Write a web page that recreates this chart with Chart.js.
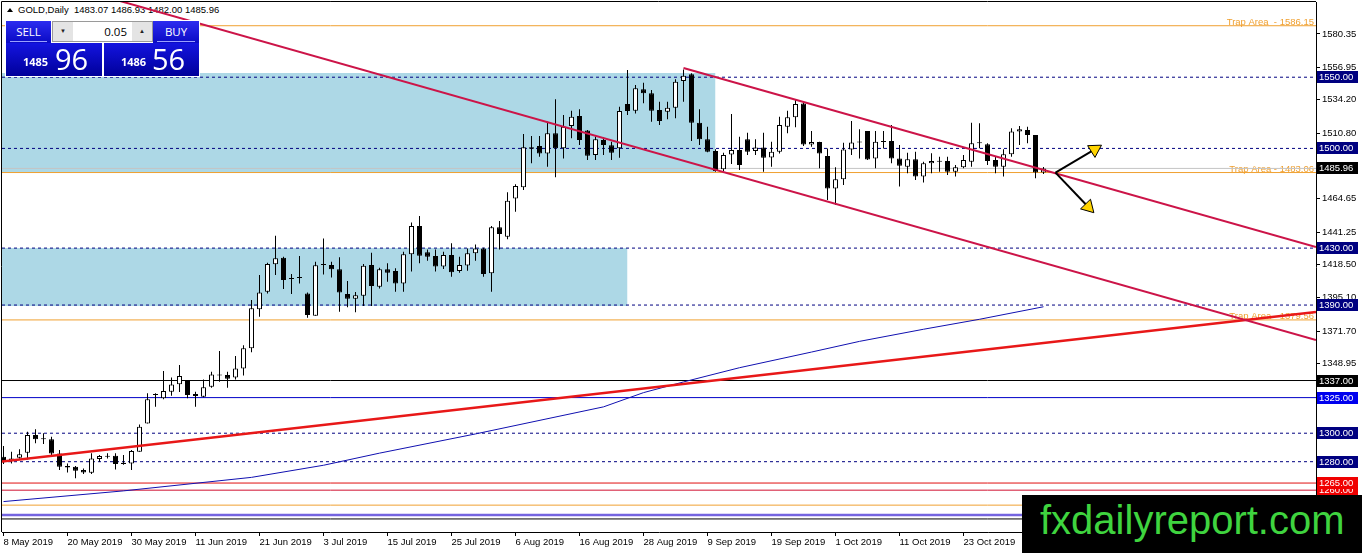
<!DOCTYPE html>
<html><head><meta charset="utf-8">
<script src="https://cdn.jsdelivr.net/npm/chart.js@4.4.0/dist/chart.umd.min.js"></script>
<style>
html,body{margin:0;padding:0;background:#fff;overflow:hidden}
#wrap{position:relative;width:1362px;height:553px;background:#fff}
#c{position:absolute;left:0;top:0;z-index:1}
#hdr{position:absolute;left:18px;top:4px;z-index:0;font:9.5px "Liberation Sans",Arial,sans-serif;color:#000;white-space:pre;line-height:12px}
#tri{position:absolute;left:7px;top:8px;width:0;height:0;border-left:3px solid transparent;border-right:3px solid transparent;border-bottom:4px solid #000;z-index:0}
#panel{position:absolute;left:5px;top:20px;width:195px;height:57px;background:#fff;z-index:3}
.btn{position:absolute;background:linear-gradient(#2c2cf0,#0a0ac4);color:#fff;font:11.5px "Open Sans",sans-serif;text-align:center;line-height:21px}
.btn i{position:absolute;left:4px;right:4px;bottom:1px;height:1px;background:#9aa0ff}
#spin{position:absolute;border:1px solid #9a9a9a;background:#fff;box-sizing:border-box}
#spin .a{position:absolute;top:0;width:20px;height:19px;background:#e4e4e4;font-size:6px;line-height:19px;text-align:center;color:#222}
#spin .v{position:absolute;right:25px;top:0;font:11.5px "Open Sans",sans-serif;line-height:19px;color:#000}
.px{position:absolute;background:linear-gradient(#1414e0,#00009a);color:#fff;white-space:nowrap}
.px .s{position:absolute;bottom:7px;font:bold 11px "Open Sans",sans-serif}
.px .b{position:absolute;bottom:3px;font:29px "Open Sans",sans-serif;line-height:29px}
#wm{position:absolute;left:1022px;top:495px;width:340px;height:58px;background:#000;color:#3fd43f;font:40px "Liberation Sans",Arial,sans-serif;line-height:46px;padding-left:18px;box-sizing:border-box;padding-top:2px;z-index:3;white-space:nowrap}
</style></head><body>
<div id="wrap">
<div id="tri"></div>
<div id="hdr">GOLD,Daily  1483.07 1486.93 1482.00 1485.96</div>
<canvas id="c" width="1362" height="553"></canvas>
<div id="panel">
 <div class="btn" style="left:1px;top:1px;width:45px;height:22px">SELL<i></i></div>
 <div id="spin" style="left:47px;top:1px;width:101px;height:21px">
  <div class="a" style="left:0">▼</div>
  <div class="v">0.05</div>
  <div class="a" style="right:0">▲</div>
 </div>
 <div class="btn" style="left:148px;top:1px;width:46px;height:22px">BUY<i></i></div>
 <div class="px" style="left:1px;top:23px;width:96px;height:33px"><span class="s" style="left:17px">1485</span><span class="b" style="left:49px">96</span></div>
 <div class="px" style="left:99px;top:23px;width:95px;height:33px"><span class="s" style="left:17px">1486</span><span class="b" style="left:48px">56</span></div>
</div>
<div id="wm">fxdailyreport.com</div>
</div>
<script>
// ---------- data ----------
const dateLabels = ['8 May 2019','20 May 2019','30 May 2019','11 Jun 2019','21 Jun 2019','3 Jul 2019','15 Jul 2019','25 Jul 2019','6 Aug 2019','16 Aug 2019','28 Aug 2019','9 Sep 2019','19 Sep 2019','1 Oct 2019','11 Oct 2019','23 Oct 2019'];
const dateTickIdx = [0,8,16,24,32,40,48,56,64,72,80,88,96,104,112,120];
const priceTicks = [1580.35,1556.95,1534.20,1510.80,1487.40,1464.65,1441.25,1418.50,1395.10,1371.70,1348.95,1325.55,1302.15,1279.40,1256.00];

const openP = [1283.5,1280.7,1282.8,1286.3,1298.7,1296.2,1295.7,1285.8,1277.0,1276.5,1274.1,1272.3,1281.9,1283.4,1284.2,1279.3,1278.8,1287.0,1306.9,1327.6,
1324.5,1329.1,1334.4,1336.7,1327.5,1325.6,1332.7,1340.6,1340.9,1339.2,1345.5,1359.6,1387.0,1399.4,1418.6,1423.2,1408.3,1409.0,1398.2,1382.5,
1418.8,1418.1,1415.1,1397.7,1394.4,1396.6,1418.1,1402.9,1415.1,1413.9,1405.2,1425.6,1445.5,1427.0,1424.5,1417.0,1425.2,1413.9,1417.7,1426.3,
1429.8,1412.3,1444.6,1438.0,1464.9,1472.7,1500.8,1501.7,1496.5,1510.6,1500.1,1515.8,1522.8,1512.5,1495.4,1505.9,1502.2,1500.1,1531.2,1526.5,
1541.5,1538.7,1527.0,1525.8,1528.6,1547.4,1552.0,1518.1,1506.4,1498.2,1485.3,1495.8,1498.9,1506.4,1498.2,1500.7,1493.7,1497.7,1515.3,1521.8,
1531.6,1502.8,1504.5,1494.6,1471.9,1478.3,1499.3,1504.2,1512.2,1493.0,1504.5,1505.2,1493.0,1487.2,1492.4,1480.2,1489.5,1490.7,1491.2,1483.7,
1486.7,1490.7,1503.6,1502.9,1491.9,1487.2,1495.9,1511.8,1513.0,1509.4,1483.07];
const highP = [1291.0,1287.0,1288.7,1301.0,1302.7,1299.9,1297.5,1288.2,1278.8,1277.0,1275.3,1285.9,1284.7,1285.9,1285.9,1284.7,1288.2,1306.2,1328.0,1328.0,
1343.7,1339.2,1347.9,1337.4,1329.2,1337.8,1343.2,1357.7,1343.2,1354.2,1361.7,1393.5,1411.1,1419.7,1438.7,1424.0,1411.8,1424.4,1398.9,1420.4,
1436.8,1420.4,1423.5,1406.9,1399.1,1418.8,1426.8,1416.2,1419.3,1415.8,1427.5,1447.9,1452.5,1429.1,1429.1,1427.5,1433.4,1424.0,1429.8,1432.6,
1430.3,1445.5,1449.0,1469.2,1474.8,1510.1,1508.7,1508.7,1518.8,1534.5,1523.5,1526.5,1527.5,1513.0,1508.3,1507.8,1504.7,1529.3,1555.1,1544.5,
1546.2,1541.0,1532.8,1532.8,1548.5,1555.5,1552.7,1527.5,1515.3,1499.4,1497.0,1524.1,1508.2,1511.0,1506.4,1511.0,1504.7,1522.3,1526.5,1534.5,
1532.8,1512.2,1504.7,1500.0,1486.7,1504.0,1519.2,1513.4,1512.2,1512.2,1512.2,1516.5,1502.4,1497.0,1497.7,1490.7,1496.6,1494.2,1494.2,1488.4,
1495.4,1518.1,1517.6,1503.6,1494.2,1499.4,1514.1,1515.8,1515.3,1509.4,1486.93];
const lowP = [1278.4,1278.8,1282.1,1281.6,1292.9,1292.4,1284.7,1274.1,1272.5,1268.3,1271.3,1271.3,1280.0,1282.3,1274.6,1277.9,1274.1,1287.0,1306.9,1318.6,
1323.8,1326.3,1329.0,1324.5,1318.6,1325.2,1332.0,1336.2,1331.9,1337.8,1340.6,1356.8,1381.8,1398.2,1411.1,1401.2,1397.7,1405.2,1381.1,1382.5,
1411.5,1409.4,1385.3,1388.4,1384.9,1389.3,1389.3,1401.7,1406.4,1399.4,1399.4,1413.5,1419.3,1421.2,1413.5,1415.3,1409.9,1412.7,1414.1,1421.2,
1409.9,1399.4,1429.1,1436.2,1455.6,1470.8,1489.5,1494.2,1487.2,1479.7,1493.0,1507.1,1502.4,1491.9,1491.9,1495.4,1491.9,1493.5,1523.5,1524.6,
1531.7,1518.8,1516.5,1520.4,1521.1,1532.8,1505.2,1502.4,1497.3,1483.7,1484.1,1489.0,1484.8,1495.3,1495.3,1483.6,1487.2,1496.5,1510.6,1514.8,
1501.7,1501.2,1486.0,1463.7,1460.2,1474.3,1495.4,1493.0,1491.8,1486.0,1500.0,1489.5,1473.2,1482.5,1477.8,1476.0,1482.5,1483.7,1481.4,1480.2,
1486.0,1487.2,1500.1,1488.4,1482.5,1480.2,1494.2,1502.4,1503.6,1479.0,1482.00];
const closeP = [1280.0,1282.3,1285.2,1298.7,1295.7,1295.8,1285.8,1276.5,1276.0,1273.7,1272.5,1282.3,1284.0,1283.6,1278.4,1278.4,1287.5,1304.6,1323.8,1326.8,
1329.6,1334.2,1340.1,1326.8,1326.1,1332.2,1341.3,1340.9,1338.3,1345.5,1359.6,1387.7,1398.9,1418.8,1422.8,1407.6,1408.6,1409.3,1383.0,1417.9,
1418.1,1415.1,1398.9,1394.4,1396.8,1417.6,1403.3,1415.1,1412.7,1405.2,1425.6,1445.5,1424.7,1424.0,1417.0,1425.2,1413.0,1418.1,1426.3,1429.8,
1411.8,1444.6,1439.9,1463.3,1473.6,1500.8,1499.8,1496.5,1510.6,1500.1,1515.3,1522.3,1505.9,1494.9,1506.4,1502.4,1497.0,1526.3,1526.3,1542.2,
1538.7,1526.5,1519.3,1528.6,1546.9,1551.1,1518.1,1506.4,1497.7,1484.1,1495.4,1498.9,1488.3,1497.7,1500.7,1493.5,1497.7,1516.4,1521.8,1531.2,
1502.8,1504.5,1496.5,1471.9,1478.3,1499.3,1504.2,1504.4,1492.3,1504.7,1504.9,1493.0,1487.9,1492.4,1480.2,1489.5,1491.2,1490.9,1483.7,1486.7,
1491.9,1503.6,1503.8,1491.2,1487.2,1495.9,1511.8,1513.4,1509.4,1483.0,1485.96];

// moving average (read at sample bars)
const maIdx   = [0,15,31,40,47,59,75,80,85,92,101,107,115,122,130];
const maPrice = [1252.0,1259.5,1269.0,1277.5,1286.0,1299.5,1318.5,1328.5,1336.0,1346.0,1357.0,1364.5,1373.0,1380.0,1388.8];

// horizontal levels
const levelPrices = [1586.15,1550,1500,1485.96,1483.06,1430,1390,1379.56,1337,1325,1300,1280,1265,1260,1249.5,1242.5,1239.8];
const trapPrices = [1586.15,1483.06,1379.56];
const trapTexts  = ['Trap Area  - 1586.15','Trap Area - 1483.06','Trap Area - 1379.56'];
const boxPrices  = [1550,1500,1485.96,1430,1390,1337,1325,1300,1280,1260,1265];

// zones
const zoneEndIdx = [89,78];
const zoneTop    = [1552.96,1430.07];
const zoneBottom = [1482.74,1389.3];

// trend lines
const chanUpperIdx = [85,164.06],  chanUpperPrice = [1556.5,1430.8];
const chanLowerIdx = [12,164.06],  chanLowerPrice = [1607.6,1365.5];
const supportIdx   = [-0.19,164.06], supportPrice = [1280.1,1385.2];
const arrowUpIdx = [131.5,136.4], arrowUpPrice = [1483.0,1499.3];
const arrowDnIdx = [131.5,135.6], arrowDnPrice = [1483.0,1458.9];

// ---------- styles ----------
const X_MIN = -0.1875, X_MAX = 164.0625, Y_MIN = 1230.63, Y_MAX = 1602.82;
const NAVY='#000080', ORANGE='#f0a030';
const levelStyles = {
 1586.15:[ORANGE,1,[]],1550:[NAVY,1,[3,3]],1500:[NAVY,1,[3,3]],1485.96:['#c4c4c4',1,[]],1483.06:[ORANGE,1,[]],
 1430:[NAVY,1,[3,3]],1390:[NAVY,1,[3,3]],1379.56:[ORANGE,1,[]],1337:['#000',1,[]],1325:['#0000c8',1,[]],
 1300:[NAVY,1,[3,3]],1280:[NAVY,1,[3,3]],1265:['#e01010',1,[]],1260:['#d01030',1,[]],1249.5:[ORANGE,1,[]],
 1242.5:['#7464e0',2.5,[]],1239.8:['#000',1,[]]
};
const boxColors = {1550:NAVY,1500:NAVY,1485.96:'#000',1430:NAVY,1390:NAVY,1337:'#000',1325:'#0000ee',1300:NAVY,1280:NAVY,1265:'#f00000',1260:'#f00000'};
const FONT = {family:'"Liberation Sans", Arial, sans-serif', size:9.5};

const idx = closeP.map((_,i)=>i);
const datasets = [];

zoneEndIdx.forEach((e,k)=>{
  datasets.push({type:'line',data:[{x:X_MIN,y:zoneTop[k]},{x:e,y:zoneTop[k]}],fill:{value:zoneBottom[k]},
    backgroundColor:'#add8e6',borderWidth:0,pointRadius:0,order:20});
});
levelPrices.forEach(p=>{
  const s = levelStyles[p];
  datasets.push({type:'line',data:[{x:X_MIN,y:p},{x:X_MAX,y:p}],borderColor:s[0],borderWidth:s[1],borderDash:s[2],
    pointRadius:0,fill:false,order:10});
});
datasets.push({type:'line',data:maIdx.map((x,k)=>({x,y:maPrice[k]})),borderColor:'#1010b0',borderWidth:1,pointRadius:0,fill:false,order:8,tension:0});
datasets.push({type:'bar',data:idx.map(i=>({x:i,y:[lowP[i],highP[i]]})),backgroundColor:'#000',borderWidth:0,barThickness:1,grouped:false,inflateAmount:0,order:5});
datasets.push({type:'bar',data:idx.map(i=>({x:i,y:[openP[i],closeP[i]]})),
  backgroundColor:idx.map(i=>closeP[i]>=openP[i]?'#fff':'#000'),borderColor:'#000',borderWidth:1,borderSkipped:false,
  barThickness:5,minBarLength:1,grouped:false,inflateAmount:0,order:4});
[[chanUpperIdx,chanUpperPrice,'#cc1448',2],[chanLowerIdx,chanLowerPrice,'#cc1448',2],[supportIdx,supportPrice,'#e81818',2.5]].forEach(t=>{
  datasets.push({type:'line',data:t[0].map((x,k)=>({x,y:t[1][k]})),borderColor:t[2],borderWidth:t[3],pointRadius:0,fill:false,order:2});
});
[[arrowUpIdx,arrowUpPrice,58],[arrowDnIdx,arrowDnPrice,136]].forEach(a=>{
  datasets.push({type:'line',data:a[0].map((x,k)=>({x,y:a[1][k]})),borderColor:'#000',borderWidth:2,fill:false,
    pointRadius:[0,8],pointStyle:'triangle',rotation:a[2],pointBackgroundColor:'#ffd400',pointBorderColor:'#000',pointBorderWidth:1,order:0});
});

const overlay = {
  id:'overlay',
  beforeDatasetsDraw(chart){
    const {ctx, chartArea:a, scales:{y}} = chart;
    ctx.save();
    ctx.font = '9.5px "Liberation Sans", Arial, sans-serif';
    ctx.fillStyle = ORANGE; ctx.textAlign='right'; ctx.textBaseline='alphabetic';
    trapPrices.forEach((p,k)=>ctx.fillText(trapTexts[k], a.right-2, Math.round(y.getPixelForValue(p))-1.5));
    ctx.restore();
  },
  afterDraw(chart){
    const {ctx, chartArea:a, scales:{y}} = chart;
    ctx.save();
    ctx.strokeStyle='#000'; ctx.lineWidth=1;
    ctx.beginPath(); ctx.moveTo(a.left-0.5,a.bottom); ctx.lineTo(a.left-0.5,a.top-0.5); ctx.lineTo(a.right,a.top-0.5); ctx.stroke();
    ctx.font = '9.5px "Liberation Sans", Arial, sans-serif';
    ctx.textAlign='left'; ctx.textBaseline='middle';
    boxPrices.forEach(p=>{
      const py = Math.round(y.getPixelForValue(p));
      ctx.fillStyle = boxColors[p];
      ctx.fillRect(a.right+1, py-6, 41, 12);
      ctx.fillStyle = '#fff';
      ctx.fillText(p.toFixed(2), a.right+3, py+0.5);
    });
    ctx.restore();
  }
};
const noPad = s => { s.paddingLeft = 0; s.paddingRight = 0; s.paddingTop = 0; s.paddingBottom = 0; };

new Chart(document.getElementById('c'),{
  type:'bar',
  data:{datasets},
  options:{
    responsive:false, animation:false, devicePixelRatio:1,
    layout:{autoPadding:false,padding:{left:2,top:2,right:0,bottom:0}},
    plugins:{legend:{display:false},tooltip:{enabled:false}},
    scales:{
      x:{type:'linear',min:X_MIN,max:X_MAX,offset:false,
        grid:{drawOnChartArea:false,drawTicks:true,tickLength:4,color:'#000',offset:false},
        border:{display:true,color:'#000'},
        afterBuildTicks:s=>{s.ticks = dateTickIdx.map(v=>({value:v}));},
        afterFit:s=>{s.height=21; noPad(s);},
        ticks:{autoSkip:false,maxRotation:0,align:'start',padding:1,color:'#000',font:FONT,
          callback:(v,k)=>dateLabels[k]}},
      y:{type:'linear',position:'right',min:Y_MIN,max:Y_MAX,
        grid:{drawOnChartArea:false,drawTicks:true,tickLength:4,color:'#000'},
        border:{display:true,color:'#000'},
        afterBuildTicks:s=>{s.ticks = priceTicks.filter(v=>v>Y_MIN&&v<Y_MAX).map(v=>({value:v}));},
        afterFit:s=>{s.width=46; noPad(s);},
        ticks:{autoSkip:false,padding:2,color:'#000',font:FONT,callback:v=>Number(v).toFixed(2)}}
    }
  },
  plugins:[overlay]
});
</script>
</body></html>
